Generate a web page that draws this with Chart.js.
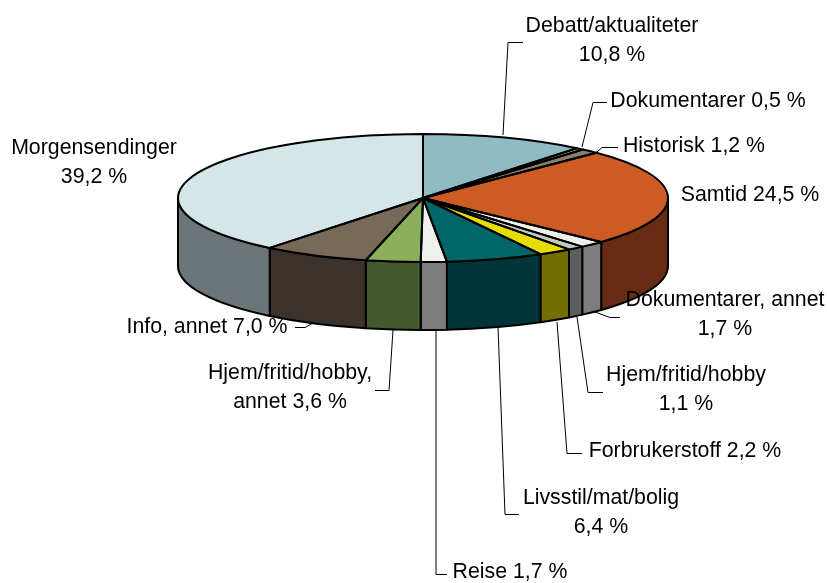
<!DOCTYPE html>
<html>
<head>
<meta charset="utf-8">
<title>Sendetid fordelt på kategorier</title>
<script src="https://cdn.jsdelivr.net/npm/chart.js@4/dist/chart.umd.min.js"></script>
<style>
  html, body { margin: 0; padding: 0; background: #fff; }
  canvas { display: block; }
</style>
</head>
<body>
<canvas id="pie-chart" width="827" height="583"></canvas>
<script>
// values, clockwise from 12 o'clock
const categories = [
    "Debatt/aktualiteter", "Dokumentarer", "Historisk", "Samtid",
    "Dokumentarer, annet", "Hjem/fritid/hobby", "Forbrukerstoff", "Livsstil/mat/bolig",
    "Reise", "Hjem/fritid/hobby, annet", "Info, annet", "Morgensendinger"
];
const shares = [10.8, 0.5, 1.2, 24.5, 1.7, 1.1, 2.2, 6.4, 1.7, 3.6, 7.0, 39.2];
const labelLines = [
    ["Debatt/aktualiteter", "10,8 %"], ["Dokumentarer 0,5 %"], ["Historisk 1,2 %"], ["Samtid 24,5 %"],
    ["Dokumentarer, annet", "1,7 %"], ["Hjem/fritid/hobby", "1,1 %"], ["Forbrukerstoff 2,2 %"], ["Livsstil/mat/bolig", "6,4 %"],
    ["Reise 1,7 %"], ["Hjem/fritid/hobby,", "annet 3,6 %"], ["Info, annet 7,0 %"], ["Morgensendinger", "39,2 %"]
];
const topColors = [
    "#8fbcc4", "#e8f0f0", "#8a7d6b", "#cc5c24", "#eef0ec", "#c0c8c0",
    "#e6dc00", "#006668", "#eef0ec", "#8ab05c", "#786a58", "#d4e6e8"
];
const sideColors = [
    "#485e62", "#747878", "#453e35", "#682c14", "#7c7c7c", "#5c605c",
    "#746e00", "#003438", "#7c7c7c", "#445a2e", "#3c322c", "#6c7678"
];

// first-line label positions and leader lines, in page pixels
const labelCentres = [
    [612, 26], [708, 101], [694, 146], [750, 195],
    [725, 300], [686, 375], [685, 451], [601, 498],
    [510, 572], [290, 373], [207, 327], [94, 148]
];
const leaders = [
    [[523, 42.5], [508, 42.5], [503, 135]],
    [[607, 102.5], [593, 102.5], [582, 147]],
    [[618, 147.5], [602, 147.5], [597, 152]],
    null,
    [[620, 317.5], [610, 317.5], [595, 312]],
    [[603, 392.5], [588, 392.5], [577, 317]],
    [[582, 453.5], [567, 453.5], [557, 322]],
    [[519, 514.5], [505, 514.5], [498, 327]],
    [[447, 574.5], [436, 574.5], [436, 330]],
    [[375, 390.5], [389, 390.5], [393, 330]],
    [[295, 327.5], [305, 327.5], [313, 323]],
    null
];

const centreY = 198;
const flatRadiusY = 64;
const depth = 68;
const lineColor = "#000";

/* ----------------------------------------------------------
   Tilted pie: the library's arcs get squashed into an ellipse,
   walls and outlines are built from the same arc elements
---------------------------------------------------------- */
const tiltedPie = {
    id: "tiltedPie",
    beforeDatasetsDraw(chart) {
        const ctx = chart.ctx;
        const arcs = chart.getDatasetMeta(0).data;
        const cx = arcs[0].x;
        const rx = arcs[0].outerRadius;

        ctx.save();
        ctx.lineWidth = 2;
        ctx.strokeStyle = lineColor;
        ctx.lineJoin = "round";
        arcs.forEach((arc, i) => {
            const from = Math.max(arc.startAngle, 0);
            const to = Math.min(arc.endAngle, Math.PI);
            if (to <= from) return;
            ctx.beginPath();
            ctx.ellipse(cx, centreY, rx, flatRadiusY, 0, from, to);
            ctx.ellipse(cx, centreY + depth, rx, flatRadiusY, 0, to, from, true);
            ctx.closePath();
            ctx.fillStyle = sideColors[i];
            ctx.fill();
            ctx.stroke();
        });
        ctx.restore();

        ctx.save();
        ctx.translate(cx, centreY);
        ctx.scale(1, flatRadiusY / rx);
        ctx.translate(-cx, -arcs[0].y);
    },
    afterDatasetsDraw(chart) {
        const ctx = chart.ctx;
        ctx.restore();

        const arcs = chart.getDatasetMeta(0).data;
        ctx.save();
        ctx.lineWidth = 2;
        ctx.strokeStyle = lineColor;
        ctx.lineJoin = "round";
        arcs.forEach((arc) => {
            ctx.beginPath();
            ctx.moveTo(arc.x, centreY);
            ctx.ellipse(arc.x, centreY, arc.outerRadius, flatRadiusY, 0, arc.startAngle, arc.endAngle);
            ctx.closePath();
            ctx.stroke();
        });
        ctx.restore();
    },
    afterDraw(chart) {
        const ctx = chart.ctx;
        ctx.save();
        ctx.strokeStyle = "#000";
        ctx.lineWidth = 1;
        leaders.forEach((points) => {
            if (!points) return;
            ctx.beginPath();
            points.forEach(([x, y], k) => (k ? ctx.lineTo(x, y) : ctx.moveTo(x, y)));
            ctx.stroke();
        });
        ctx.fillStyle = "#000";
        ctx.font = '21.3px "Liberation Sans", Arial, sans-serif';
        ctx.textAlign = "center";
        ctx.textBaseline = "middle";
        labelLines.forEach((lines, i) => {
            const [x, y] = labelCentres[i];
            lines.forEach((line, k) => ctx.fillText(line, x, y + k * 29));
        });
        ctx.restore();
    }
};

new Chart(document.getElementById("pie-chart").getContext("2d"), {
    type: "pie",
    data: {
        labels: categories,
        datasets: [{
            data: shares,
            backgroundColor: topColors,
            borderWidth: 0,
            clip: false
        }]
    },
    options: {
        responsive: false,
        animation: false,
        layout: { padding: { left: 178, right: 159, top: 46, bottom: 47 } },
        plugins: {
            legend: { display: false },
            tooltip: { enabled: false }
        }
    },
    plugins: [tiltedPie]
});
</script>
</body>
</html>
